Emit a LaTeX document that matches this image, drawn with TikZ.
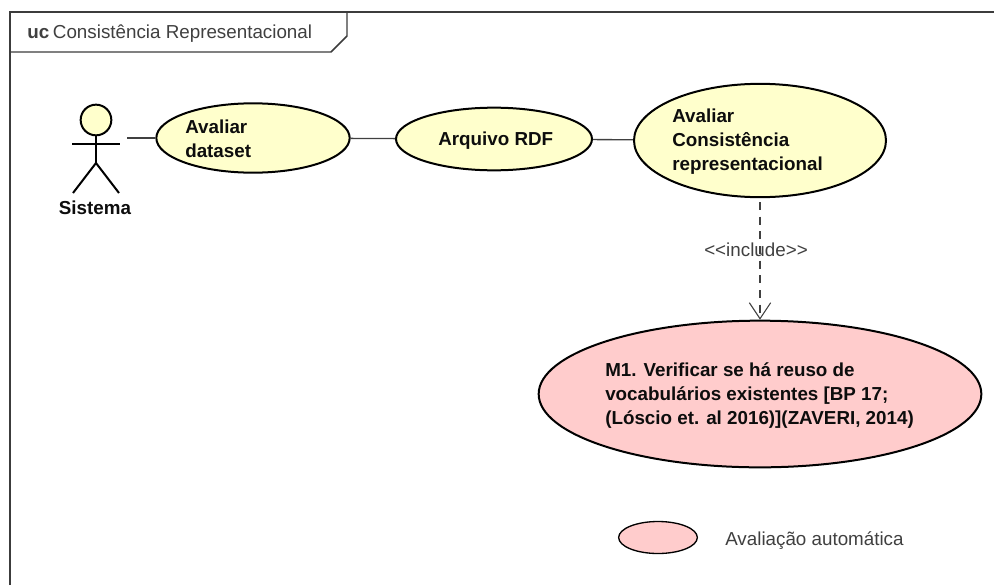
\documentclass[tikz,border=0pt]{standalone}
\usepackage{fontspec}
\setmainfont{Liberation Sans}
\usepackage{tikz}
\usetikzlibrary{arrows.meta,shapes.geometric,positioning}
\tikzset{>=stealth}
\definecolor{usecase}{RGB}{255,255,204}
\definecolor{autocase}{RGB}{255,204,204}
\definecolor{framegray}{RGB}{60,60,60}
\tikzset{
  case/.style={ellipse, draw=black, line width=1.5pt, fill=usecase, inner sep=0pt},
  caselabel/.style={font=\bfseries\fontsize{14.1}{18}\selectfont, align=left, anchor=west, inner sep=0pt, text=black!95},
  plainlabel/.style={font=\fontsize{14.1}{18}\selectfont, inner sep=0pt, text=black!75},
  link/.style={draw=black!75, line width=1pt},
}
\begin{document}
\begin{tikzpicture}[x=0.75pt, y=-0.75pt]
  \useasboundingbox (0, 0) rectangle (994, 585);
  \fill [white] (0, 0) rectangle (994, 585);

  % frame
  \draw [framegray, line width=1.1pt] (10, 585)--(10, 12)--(994, 12);
  \draw [framegray, line width=1.1pt] (10, 52)--(331, 52)--(347, 36)--(347, 12);
  \node (frametitle) at (27, 33.5) [anchor=west, plainlabel] {\textbf{uc}\hspace{0.2em}Consistência Representacional};

  % actor
  \node (head) at (96, 120) [circle, draw, line width=1.5pt, fill=usecase, minimum size=23pt, inner sep=0pt] {};
  \coordinate (hip) at (96, 163);
  \coordinate (armL) at (72, 144);
  \coordinate (armR) at (120, 144);
  \coordinate (footL) at (73, 193);
  \coordinate (footR) at (119, 193);
  \draw [line width=1.5pt] (head.south)--(hip);
  \draw [line width=1.5pt] (armL)--(armR);
  \draw [line width=1.5pt] (footL)--(hip)--(footR);
  \node (sistema) at (95, 208) [caselabel, anchor=center] {Sistema};

  % use cases
  \node (dataset) at (253, 138) [case, minimum width=145pt, minimum height=52pt] {};
  \node (rdf) at (494, 139) [case, minimum width=147pt, minimum height=47pt] {};
  \node (consist) at (760, 140.5) [case, minimum width=189pt, minimum height=85pt] {};
  \node (m1) at (760, 394) [case, fill=autocase, minimum width=332pt, minimum height=110pt] {};
  \node (legend) at (658, 537.5) [case, fill=autocase, line width=1pt, minimum width=59pt, minimum height=24pt] {};

  \node (datasettext) at (185, 138.5) [caselabel] {Avaliar\\dataset};
  \node (rdftext) at (438, 141) [caselabel] {Arquivo RDF};
  \node (consisttext) at (672, 142) [caselabel] {Avaliar\\Consistência\\representacional};
  \node (m1text) at (605, 395.5) [caselabel] {M1. Verificar se há reuso de\\vocabulários existentes [BP 17;\\(Lóscio et. al 2016)](ZAVERI, 2014)};
  \node (legendtext) at (725, 541) [plainlabel, anchor=west] {Avaliação automática};

  % connectors
  \coordinate (actorend) at (127, 138);
  \coordinate (includestart) at (760, 202);
  \draw [link] (actorend)--(dataset);
  \draw [link] (dataset)--(rdf);
  \draw [link] (rdf)--(consist);
  \draw [link, dash pattern=on 6pt off 5pt, -{Straight Barb[length=12pt, width=16pt, line width=0.8pt]}] (includestart)--(m1.north);
  \node (include) at (756, 250) [plainlabel] {<{}<include>{}>};
\end{tikzpicture}
\end{document}
